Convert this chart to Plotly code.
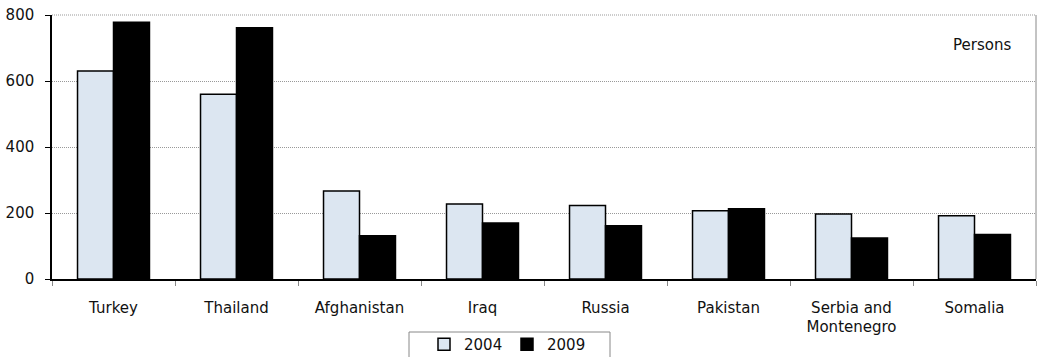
import plotly.graph_objects as go

categories = ["Turkey", "Thailand", "Afghanistan", "Iraq", "Russia", "Pakistan",
              "Serbia and<br>Montenegro", "Somalia"]
values_2004 = [630, 560, 267, 227, 223, 207, 197, 192]
values_2009 = [778, 761, 131, 170, 161, 213, 124, 135]
y_ticks = [0, 200, 400, 600, 800]

W, H = 1038, 357
L, R, T, B = 52, 2, 15, 78
pw, ph = W - L - R, H - T - B

def px(x):
    return (x - L) / pw

def py(y):
    return (H - B - y) / ph

FONT = "DejaVu Sans"
TXT = "#111111"

fig = go.Figure()
fig.add_trace(go.Bar(x=categories, y=values_2004, name="2004",
                     marker=dict(color="#DCE6F1", line=dict(color="black", width=1.5))))
fig.add_trace(go.Bar(x=categories, y=values_2009, name="2009",
                     marker=dict(color="black", line=dict(color="black", width=1.5))))

fig.update_layout(
    width=W, height=H,
    margin=dict(l=L, r=R, t=T, b=B, pad=0, autoexpand=False),
    paper_bgcolor="white", plot_bgcolor="white",
    barmode="group", bargap=0.415, bargroupgap=0,
    font=dict(family=FONT, size=15, color=TXT),
    showlegend=True,
    legend=dict(orientation="h", xref="container", yref="container",
                x=424 / W, xanchor="left", y=(H - 328) / H, yanchor="top",
                bgcolor="rgba(0,0,0,0)", borderwidth=0, entrywidth=38,
                font=dict(family=FONT, size=15, color=TXT)),
    xaxis=dict(showline=True, linecolor="black", linewidth=1.5, automargin=False,
               ticks="outside", tickson="boundaries", ticklen=5, tickcolor="#888",
               ticklabelstandoff=14, showgrid=False, fixedrange=True,
               tickfont=dict(family=FONT, size=15, color=TXT)),
    yaxis=dict(range=[0, 800], tickvals=y_ticks, showline=True, linecolor="black", linewidth=1.5,
               automargin=False, ticks="outside", ticklen=5, tickcolor="black", showgrid=True,
               gridcolor="#999", griddash="1px,1px", gridwidth=1, zeroline=False,
               fixedrange=True, ticklabelstandoff=8, tickfont=dict(family=FONT, size=15, color=TXT)),
    annotations=[dict(text="Persons", x=px(1013), y=py(45), xref="paper", yref="paper",
                      xanchor="right", yanchor="middle", showarrow=False,
                      font=dict(family=FONT, size=15, color=TXT))],
    shapes=[
        dict(type="line", xref="paper", yref="paper", x0=0, x1=1, y0=1, y1=1,
             line=dict(color="#999", width=1, dash="1px,1px")),
        dict(type="line", xref="paper", yref="paper", x0=1, x1=1, y0=0, y1=1,
             line=dict(color="#888", width=1)),
        dict(type="rect", xref="paper", yref="paper", x0=px(409), x1=px(610),
             y0=py(362), y1=py(332), line=dict(color="#888", width=1),
             fillcolor="rgba(0,0,0,0)"),
    ],
)

fig.write_html("out.html", config={"displayModeBar": False},
               post_script="document.body.style.margin='0';document.body.style.overflow='hidden';")
